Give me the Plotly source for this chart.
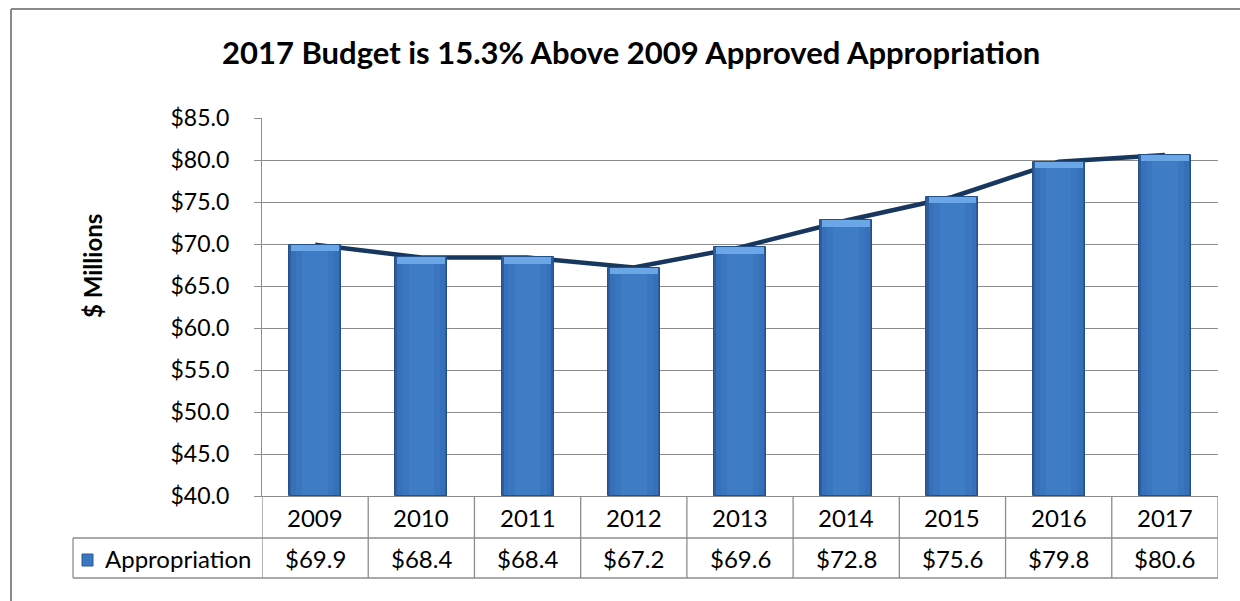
import plotly.graph_objects as go

# ---- chart data ----
years = ["2009", "2010", "2011", "2012", "2013", "2014", "2015", "2016", "2017"]
appropriation = [69.9, 68.4, 68.4, 67.2, 69.6, 72.8, 75.6, 79.8, 80.6]
series_name = "Appropriation"
y_tick_values = [40, 45, 50, 55, 60, 65, 70, 75, 80, 85]
y_tick_labels = ["$40.0", "$45.0", "$50.0", "$55.0", "$60.0",
                 "$65.0", "$70.0", "$75.0", "$80.0", "$85.0"]
chart_title = "2017 Budget is 15.3% Above 2009 Approved Appropriation"
y_axis_title = "$ Millions"

# ---- page geometry (pixels) ----
W, H = 1240, 601
ML, MR, MT, MB = 262, 22, 118, 105
PW, PH = W - ML - MR, H - MT - MB
FONT = "Lato"
GRID = "#8c8c8c"


def xp(px):
    return (px - ML) / PW


def yp(py):
    return (H - MB - py) / PH


fig = go.Figure()

# trend line sits underneath the bars (base subplot)
fig.add_trace(go.Scatter(
    x=years, y=appropriation, mode="lines",
    line=dict(color="#17375E", width=4.5),
    xaxis="x", yaxis="y", hoverinfo="skip", showlegend=False,
))

# bars on the overlaid axes, layered to give a shaded column look
bar_layers = [
    (0.49, "#2D5D9C"),
    (0.45, "#3670B8"),
    (0.36, "#3A76BF"),
    (0.24, "#3E7CC6"),
]
for width, color in bar_layers:
    fig.add_trace(go.Bar(
        x=years, y=appropriation, width=width,
        marker=dict(color=color, line=dict(width=0)),
        xaxis="x2", yaxis="y2", showlegend=False, hoverinfo="skip",
    ))

# lighter bevel along the top of each column
cap = 0.75
fig.add_trace(go.Bar(
    x=years, y=[cap] * len(appropriation),
    base=[v - cap for v in appropriation], width=0.45,
    marker=dict(color="#6BA6E6", line=dict(width=0)),
    xaxis="x2", yaxis="y2", showlegend=False, hoverinfo="skip",
))
fig.add_trace(go.Bar(
    x=years, y=[v - 40 for v in appropriation],
    base=[40] * len(appropriation), width=0.49,
    marker=dict(color="rgba(0,0,0,0)", line=dict(color="#24508A", width=1)),
    xaxis="x2", yaxis="y2", showlegend=False, hoverinfo="skip",
))

axis_x = dict(type="category", range=[-0.5, len(years) - 0.5],
              showticklabels=False, showgrid=False, zeroline=False,
              showline=True, linecolor=GRID, linewidth=1.3, ticks="")
axis_y = dict(range=[40, 85], tickvals=y_tick_values, ticktext=y_tick_labels,
              showgrid=True, gridcolor=GRID, gridwidth=1.3, zeroline=False,
              showline=True, linecolor=GRID, linewidth=1.3,
              ticks="outside", ticklen=7, tickcolor=GRID, tickwidth=1.3,
              ticklabelstandoff=20,
              tickfont=dict(family=FONT, size=23, color="#000000"))

shapes = []
annotations = []

# outer chart frame (left and top edges)
shapes.append(dict(type="line", xref="paper", yref="paper",
                   x0=xp(11), x1=xp(W + 5), y0=yp(9), y1=yp(9),
                   line=dict(color="#8a8a8a", width=2)))
shapes.append(dict(type="line", xref="paper", yref="paper",
                   x0=xp(11), x1=xp(11), y0=yp(9), y1=yp(H + 5),
                   line=dict(color="#8a8a8a", width=2)))

# data table grid beneath the plot
row_top, row_mid, row_bot = 496, 538, 578
legend_left = 73
for py in (row_mid, row_bot):
    shapes.append(dict(type="line", xref="paper", yref="paper",
                       x0=xp(legend_left), x1=1, y0=yp(py), y1=yp(py),
                       line=dict(color=GRID, width=1.3)))
for i in range(len(years) + 1):
    shapes.append(dict(type="line", xref="x", yref="paper",
                       x0=i - 0.5, x1=i - 0.5, y0=yp(row_top), y1=yp(row_bot),
                       line=dict(color=GRID, width=1.3)))
shapes.append(dict(type="line", xref="paper", yref="paper",
                   x0=xp(legend_left), x1=xp(legend_left),
                   y0=yp(row_mid), y1=yp(row_bot),
                   line=dict(color=GRID, width=1.3)))

# legend key swatch
shapes.append(dict(type="rect", xref="paper", yref="paper",
                   x0=xp(82), x1=xp(93), y0=yp(566), y1=yp(554),
                   fillcolor="#3B76C0", line=dict(color="#2B5A95", width=1)))

table_font = dict(family=FONT, size=24, color="#000000")
for i, (yr, val) in enumerate(zip(years, appropriation)):
    annotations.append(dict(x=i, xref="x", y=yp((row_top + row_mid) / 2),
                            yref="paper", text=yr, showarrow=False,
                            xanchor="center", yanchor="middle",
                            font=table_font))
    annotations.append(dict(x=i, xref="x", y=yp((row_mid + row_bot) / 2),
                            yref="paper", text=f"${val:.1f}", showarrow=False,
                            xanchor="center", yanchor="middle",
                            font=table_font))

annotations.append(dict(x=xp(103), y=yp((row_mid + row_bot) / 2),
                        xref="paper", yref="paper",
                        xanchor="left", yanchor="middle",
                        text=series_name, showarrow=False, font=table_font))

# chart title and axis title
annotations.append(dict(x=xp(631), y=yp(52), xref="paper", yref="paper",
                        xanchor="center", yanchor="middle",
                        text=f"<b>{chart_title}</b>", showarrow=False,
                        font=dict(family=FONT, size=31, color="#000000")))
annotations.append(dict(x=xp(92), y=yp(266), xref="paper", yref="paper",
                        xanchor="center", yanchor="middle",
                        text=f"<b>{y_axis_title}</b>", textangle=-90,
                        showarrow=False,
                        font=dict(family=FONT, size=24, color="#000000")))

fig.update_layout(
    width=W, height=H,
    margin=dict(l=ML, r=MR, t=MT, b=MB),
    paper_bgcolor="#ffffff", plot_bgcolor="#ffffff",
    barmode="overlay", bargap=0,
    xaxis=axis_x,
    yaxis=axis_y,
    xaxis2=dict(axis_x, overlaying="x", showline=False, visible=False),
    yaxis2=dict(range=[40, 85], overlaying="y", visible=False),
    shapes=shapes,
    annotations=annotations,
    showlegend=False,
)

fig.write_html("out.html", config={"displayModeBar": False})
